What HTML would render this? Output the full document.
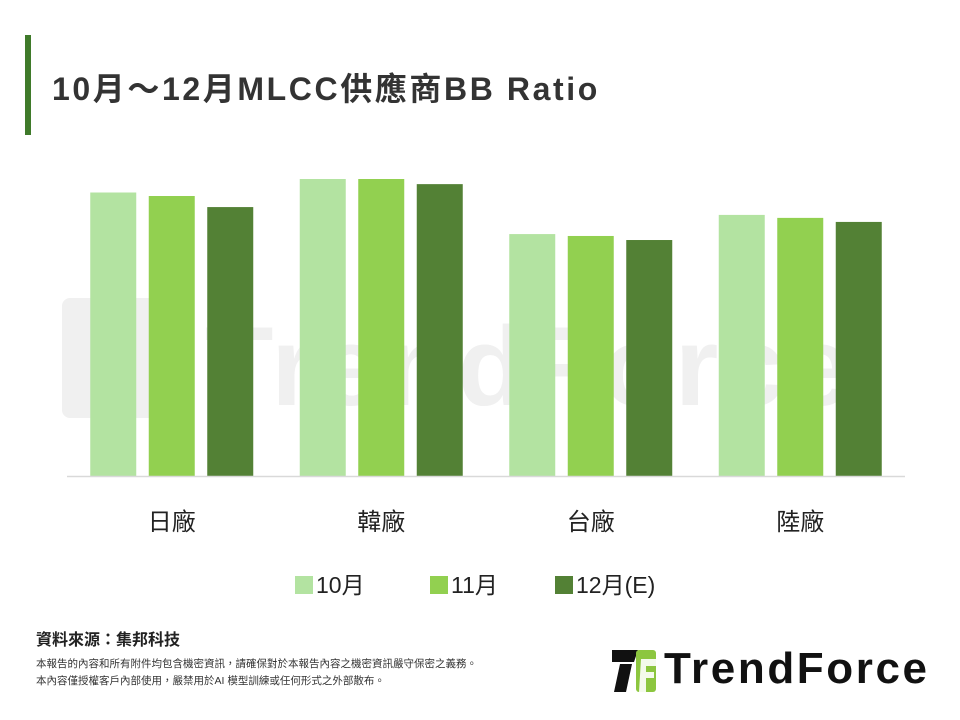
<!DOCTYPE html>
<html><head><meta charset="utf-8">
<style>
body{margin:0;background:#fff;font-family:"Liberation Sans","Noto Sans CJK TC",sans-serif;}
#wrap{position:relative;width:960px;height:720px;overflow:hidden;background:#fff;}
.abs{position:absolute;}
</style></head>
<body>
<div id="wrap">
<div class="abs" style="left:25px;top:35px;width:6px;height:100px;background:#3f7a2a;"></div>
<div class="abs" style="left:52px;top:64px;font-size:32px;font-weight:bold;color:#333;letter-spacing:2.6px;white-space:nowrap;">10月～12月MLCC供應商BB Ratio</div>
<svg id="chart" class="abs" style="left:0;top:0" width="960" height="720"></svg>
<div class="abs" style="left:36px;top:626px;font-size:16px;font-weight:bold;color:#222;">資料來源：集邦科技</div>
<div class="abs" style="left:36px;top:656px;font-size:10.5px;line-height:17px;color:#333;white-space:nowrap;">本報告的內容和所有附件均包含機密資訊，請確保對於本報告內容之機密資訊嚴守保密之義務。<br>本內容僅授權客戶內部使用，嚴禁用於AI 模型訓練或任何形式之外部散布。</div>
<svg class="abs" style="left:610px;top:646px" width="50" height="48">
<path d="M2 4 H28 L24 16 H2 Z" fill="#111"/>
<path d="M10 18 H22 L16 46 H4 Z" fill="#111"/>
<rect x="26" y="4" width="20" height="42" rx="3" fill="#8cc63f"/>
<path d="M31 13 H46 V20 H36 V26 H44 V32 H36 V46 H29 Z" fill="#fff" opacity="0.9"/>
</svg>
<div class="abs" style="left:664px;top:644px;font-size:44px;font-weight:bold;color:#111;letter-spacing:2.6px;white-space:nowrap;">TrendForce</div>
</div>
<script>
const categories=["日廠","韓廠","台廠","陸廠"];
const seriesNames=["10月","11月","12月(E)"];
const oct=[1.05,1.10,0.896,0.967];
const nov=[1.037,1.10,0.889,0.956];
const dec=[0.996,1.081,0.874,0.941];
const colors=["#b3e3a1","#92d050","#538135"];
const svg=document.getElementById('chart');
const NS='http://www.w3.org/2000/svg';
const x0=67,x1=905,base=476,unit=270;
const gw=(x1-x0)/categories.length;
function yScale(v){return base-v*unit;}
function xCenter(i){return x0+gw*(i+0.5);}
function mk(t,a){const e=document.createElementNS(NS,t);for(const k in a)e.setAttribute(k,a[k]);svg.appendChild(e);return e;}
const wm=mk('text',{x:205,y:405,'font-size':112,'font-weight':'bold',fill:'#f0f0f0','font-family':'Liberation Sans, sans-serif','letter-spacing':4});
wm.textContent='TrendForce';


const wr=mk('rect',{x:62,y:298,width:128,height:120,rx:8,fill:'#f0f0f0'});


const series=[oct,nov,dec];
const bw=46,step=58.5;
series.forEach((s,si)=>{
 s.forEach((v,i)=>{
  const cx=xCenter(i)+(si-1)*step;
  const r=mk('rect',{x:cx-bw/2,y:yScale(v),width:bw,height:base-yScale(v),fill:colors[si]});
  
  
 });
});
const ax=mk('line',{x1:x0,x2:x1,y1:base+0.5,y2:base+0.5,stroke:'#d9d9d9','stroke-width':1.5});


categories.forEach((c,i)=>{
 const t=mk('text',{x:xCenter(i),y:530,'text-anchor':'middle','font-size':24,fill:'#222','font-family':'Liberation Sans, Noto Sans CJK TC, sans-serif'});
 t.textContent=c;
 
 
});
const legX=[295,430,555];
seriesNames.forEach((n,si)=>{
 const r=mk('rect',{x:legX[si],y:576,width:18,height:18,fill:colors[si]});
 
 
 const t=mk('text',{x:legX[si]+21,y:593,'font-size':23,fill:'#222','font-family':'Liberation Sans, Noto Sans CJK TC, sans-serif'});
 t.textContent=n;
 
 
});
</script>
</body></html>
